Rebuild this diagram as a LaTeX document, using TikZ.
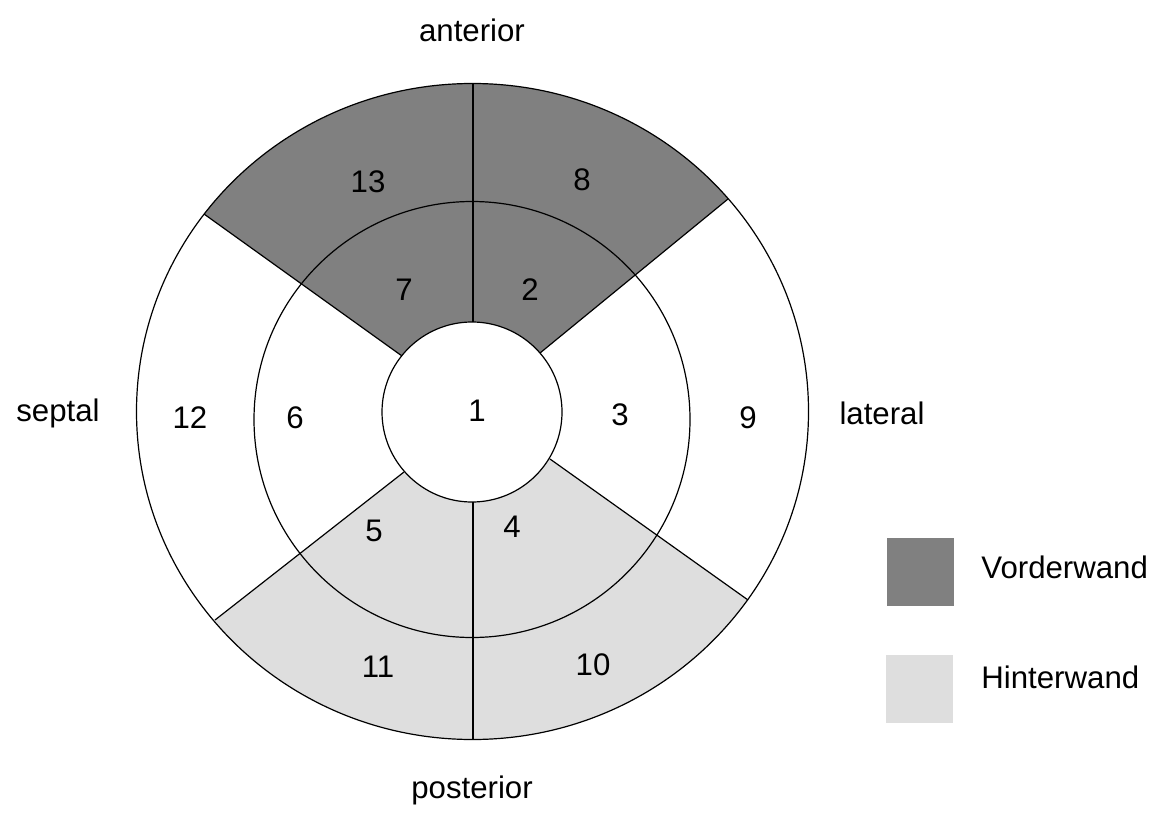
\documentclass[tikz,border=0pt]{standalone}
\usepackage{fontspec}
\setmainfont{Liberation Sans}
\definecolor{vorderwand}{RGB}{128,128,128}
\definecolor{hinterwand}{RGB}{222,222,222}
\tikzset{
  segline/.style={draw=black, line width=0.6pt},
  legendbox/.style={minimum width=33.5pt, minimum height=34pt, inner sep=0pt},
}
\begin{document}
\begin{tikzpicture}[x=0.5pt, y=-0.5pt, font=\fontsize{15.6}{18}\selectfont]
\useasboundingbox (0,0) rectangle (1159,812);
% centres of the rings
\coordinate (co) at (472.5,411.5);
\coordinate (cm) at (472,419.5);
\coordinate (ci) at (472,412);
% ends of the dividing lines
\coordinate (atopout) at (473,83.5);  \coordinate (atopin) at (473,322);
\coordinate (pbotin) at (473,502);    \coordinate (pbotout) at (473,740);
\coordinate (ulin) at (402,356);      \coordinate (ulout) at (204,214);
\coordinate (urin) at (540,353);      \coordinate (urout) at (728,199);
\coordinate (llin) at (404,472);      \coordinate (llout) at (215,620);
\coordinate (lrin) at (550,459);      \coordinate (lrout) at (748,600);
% anterior wall
\begin{scope}
\clip (ulin) -- (105,143) -- (105,40) -- (850,40) -- (822,122) -- (urin) -- cycle;
\fill[vorderwand] (co) ellipse [x radius=168pt, y radius=164pt];
\end{scope}
% posterior wall
\begin{scope}
\clip (llin) -- (122,694) -- (122,790) -- (850,790) -- (847,670) -- (lrin) -- cycle;
\fill[hinterwand] (co) ellipse [x radius=168pt, y radius=164pt];
\end{scope}
% rings
\draw[segline] (co) ellipse [x radius=168pt, y radius=164pt];
\draw[segline] (cm) circle [radius=109pt];
\filldraw[segline, fill=white] (ci) circle [radius=45pt];
% dividing lines
\draw[segline] (atopin) -- (atopout);
\draw[segline] (pbotin) -- (pbotout);
\draw[segline] (ulin) -- (ulout);
\draw[segline] (urin) -- (urout);
\draw[segline] (llin) -- (llout);
\draw[segline] (lrin) -- (lrout);
% segment numbers
\node (s1) at (477,411) {1};
\node (s2) at (530,290) {2};
\node (s3) at (620,415) {3};
\node (s4) at (512,527) {4};
\node (s5) at (374,531) {5};
\node (s6) at (295,418) {6};
\node (s7) at (404,290) {7};
\node (s8) at (582,180) {8};
\node (s9) at (748,418) {9};
\node (s10) at (593,665) {10};
\node (s11) at (378,667) {11};
\node (s12) at (190,418) {12};
\node (s13) at (368,182) {13};
% directions
\node (anterior) at (472,30) {anterior};
\node (posterior) at (472,790) {posterior};
\node (septal) at (58,413) {septal};
\node (lateral) at (882,413) {lateral};
% legend
\node[legendbox, fill=vorderwand] (vbox) at (920.5,572) {};
\node[legendbox, fill=hinterwand] (hbox) at (919,689) {};
\node[anchor=west, inner sep=0pt] (vtext) at (981,567) {Vorderwand};
\node[anchor=west, inner sep=0pt] (htext) at (981,677) {Hinterwand};
\end{tikzpicture}
\end{document}
